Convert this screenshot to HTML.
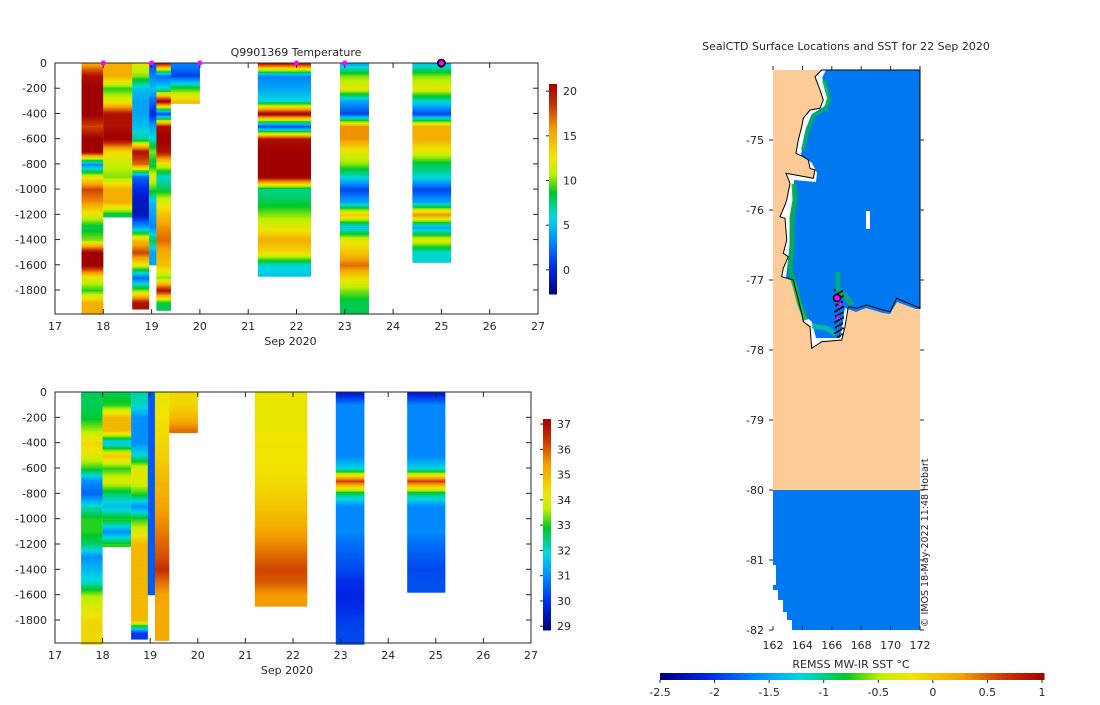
<!DOCTYPE html>
<html><head><meta charset="utf-8"><style>
body{margin:0;background:#fff;width:1100px;height:700px;overflow:hidden}
svg{font-family:"DejaVu Sans","Liberation Sans",sans-serif;font-size:11px;fill:#262626}
</style></head><body>
<svg id="s" width="1100" height="700" xmlns="http://www.w3.org/2000/svg"></svg>
<script>
// ---- data ----
const colDays = [[17.55,18.0],[18.0,18.6],[18.6,18.95],[18.95,19.1],[19.1,19.4],[19.4,20.0],[21.2,22.3],[22.9,23.5],[24.4,25.2]];
const tempMaxDepth = [1990,1220,1950,1600,1960,320,1690,1990,1580];
const tempA = [15,20,21,21,21,18,21,21,3,12,18,16,12,8,10,21,21,12,9,15];
const tempB = [15,15,9,12,20,20,21,13,11,10,15,15,8];
const tempC = [12,10,5,4,4,5,7,20,17,2,0,-1,-1,4,14,18,12,2,10,20];
const tempD = [1,3,5,2,0,4,6,10,8,12,9,5,4,3,8,4,4];
const tempE = [20,2,6,21,1,20,21,20,12,6,8,12,14,16,17,15,14,10,20,8];
const tempF = [3,1,9,14];
const tempG = [20,3,4,6,21,1,20,21,21,21,7,8,10,12,15,13,6,5];
const tempH = [4,10,12,4,1,16,16,12,10,6,1,4,14,5,12,14,17,13,10,8];
const tempI = [5,10,12,6,1,15,15,12,8,6,1,4,16,4,12,6,6];
const salMaxDepth = [1990,1220,1950,1600,1960,320,1690,1990,1580];
const salA = [32.6,32.6,32.8,33.5,34.5,34,33,31,30.5,32,33,33,32.5,31,31.5,32,33.5,34,34.5,34.5];
const salB = [32.6,33,35,35,31.5,34.8,33,34,32.5,31.5,33,31,33];
const salC = [32.2,32,31,31,31,32,34,34,33,31,33,34,35,35,35,35,35,35,35,30];
const salD = [30.4,30.4,30.4,30.4,30.4,30.4,30.4,30.4,30.4,30.4,30.4,30.4,30.4,30.4,30.4,30.4,30.4];
const salE = [34.2,34.2,34.3,34.4,34.5,34.6,34.8,35,35.1,35.3,35.5,35.7,35.9,36.1,36.4,35.8,35.3,35.2,35.2,35.2];
const salF = [34.5,34.5,35.0,35.8];
const salG = [34.2,34.2,34.2,34.2,34.3,34.3,34.3,34.4,34.6,34.8,35.0,35.3,35.6,35.9,36.2,36.0,35.4,35.4];
const salH = [29.5,30.9,30.9,30.9,30.9,30.9,31.8,36.3,32.5,30.9,30.9,30.9,30.6,30.4,30.2,29.9,29.8,29.9,30.1,30.2];
const salI = [29.5,30.9,30.9,30.9,30.9,30.9,31.8,36.3,32.5,30.9,30.9,30.9,30.6,30.4,30.2,30.3];
const xTicks = [17,18,19,20,21,22,23,24,25,26,27];
const yTicks = [0,-200,-400,-600,-800,-1000,-1200,-1400,-1600,-1800];
const tempCbTicks = [0,5,10,15,20];
const salCbTicks = [29,30,31,32,33,34,35,36,37];
const markerDays = [18,19,20,22,23];
const bigMarkerDay = 25;
const lonTicks = [162,164,166,168,170,172];
const latTicks = [-75,-76,-77,-78,-79,-80,-81,-82];
const sstTicks = [-2.5,-2,-1.5,-1,-0.5,0,0.5,1];
const tempCols=[tempA,tempB,tempC,tempD,tempE,tempF,tempG,tempH,tempI];
const salCols=[salA,salB,salC,salD,salE,salF,salG,salH,salI];

const S=document.getElementById('s');const NS='http://www.w3.org/2000/svg';
function el(t,a,p){const e=document.createElementNS(NS,t);for(const k in a)e.setAttribute(k,a[k]);(p||S).appendChild(e);return e;}
function txt(x,y,s,a,p){const e=el('text',Object.assign({x:x,y:y},a||{}),p);e.textContent=s;return e;}
const stops=[[0,[0,0,128]],[.12,[0,40,230]],[.25,[0,140,255]],[.36,[0,215,225]],[.48,[0,200,40]],[.57,[190,240,0]],[.65,[240,228,0]],[.78,[245,160,0]],[.9,[200,50,0]],[1,[160,0,0]]];
function cmap(t){t=Math.max(0,Math.min(1,t));for(let i=1;i<stops.length;i++){if(t<=stops[i][0]){const a=stops[i-1],b=stops[i],f=(t-a[0])/(b[0]-a[0]);const c=a[1].map((v,j)=>Math.round(v+(b[1][j]-v)*f));return 'rgb('+c.join(',')+')';}}return 'rgb(160,0,0)';}

function panel(o){
  const g=el('g',{});
  const X=d=>o.x0+(d-17)/10*(o.x1-o.x0);
  const Y=z=>o.y0+(-z)/1800*(o.y1800-o.y0);
  const V=v=>(v-o.vmin)/(o.vmax-o.vmin);
  o.cols.forEach((arr,ci)=>{
    const cg=el('g',{},g);
    const md=o.maxd[ci];
    for(let z=0;z<md;z+=10){
      const f=z/100,i=Math.floor(f),fr=f-i;const a=arr[Math.min(i,arr.length-1)],b=arr[Math.min(i+1,arr.length-1)];
      const v=a+(b-a)*fr;
      el('rect',{x:X(colDays[ci][0]),y:Y(-z),width:X(colDays[ci][1])-X(colDays[ci][0]),height:Y(-z-10)-Y(-z)+0.6,fill:cmap(V(v))},cg);
    }
  });
  el('rect',{x:o.x0,y:o.y0,width:o.x1-o.x0,height:o.yb-o.y0,fill:'none',stroke:'#262626','stroke-width':1},g);
  xTicks.forEach(t=>{const x=X(t);el('line',{x1:x,x2:x,y1:o.yb,y2:o.yb-5,stroke:'#262626'},g);el('line',{x1:x,x2:x,y1:o.y0,y2:o.y0+5,stroke:'#262626'},g);txt(x,o.yb+16,t,{'text-anchor':'middle'},g);});
  yTicks.forEach(t=>{const y=Y(t);el('line',{x1:o.x0,x2:o.x0+5,y1:y,y2:y,stroke:'#262626'},g);el('line',{x1:o.x1,x2:o.x1-5,y1:y,y2:y,stroke:'#262626'},g);txt(o.x0-8,y+4,t,{'text-anchor':'end'},g);});
  txt((o.x0+o.x1)/2-6,o.yb+31,'Sep 2020',{'text-anchor':'middle',},g);
  const cb=el('g',{},g);
  const CY=v=>o.cbB-(v-o.vmin)/(o.vmax-o.vmin)*(o.cbB-o.cbT);
  for(let i=0;i<100;i++){const v=o.vmin+(o.vmax-o.vmin)*i/100;el('rect',{x:o.cbx,y:CY(v+(o.vmax-o.vmin)/100),width:8,height:(o.cbB-o.cbT)/100+0.5,fill:cmap(i/100)},cb);}
  o.cbt.forEach(t=>{const y=CY(t);el('line',{x1:o.cbx-3,x2:o.cbx,y1:y,y2:y,stroke:'#262626'},cb);txt(o.cbx+14,y+4,t,{},cb);});
  return {g:g,X:X,Y:Y};
}
const topPanel=panel({name:'temperature-panel',x0:55,x1:538,y0:63,y1800:290,yb:314,vmin:-2.7,vmax:20.8,cols:tempCols,maxd:tempMaxDepth,cbx:549,cbT:84,cbB:294,cbt:tempCbTicks});
txt(296,56,'Q9901369  Temperature',{'text-anchor':'middle',});
markerDays.forEach(d=>{const m=el('circle',{cx:topPanel.X(d),cy:63,r:2.5,fill:'#ff00ff'});

});
el('circle',{cx:topPanel.X(bigMarkerDay),cy:63,r:3.5,fill:'#ff00ff',stroke:'#000','stroke-width':1.8,});
panel({name:'salinity-panel',x0:55,x1:531,y0:392,y1800:620,yb:643,vmin:28.85,vmax:37.2,cols:salCols,maxd:salMaxDepth,cbx:543,cbT:419,cbB:630,cbt:salCbTicks});

// ---- map ----
const mg=el('g',{});
const MX=l=>773+(l-162)/10*147, MY=la=>70+(-74-la)*70;
txt(846,50,'SealCTD Surface Locations and SST for 22 Sep 2020',{'text-anchor':'middle',},mg);
el('rect',{x:773,y:70,width:147,height:560,fill:'#fdcb97',},mg);
const coast='821.7,70 815,76.7 820,90 823.3,100 820,108.3 810,110 803.3,118.3 801.7,126.7 798.3,140 796,153.3 803.3,156.7 808.3,160 810,168.3 815,170 813.3,178.3 786,173.3 790,183.3 786.7,200 785,205 780,216.7 785,218.3 786.7,240 783.3,253.3 788.3,256.7 783.3,268.3 781.7,276.7 793.3,280 796.7,293.3 801.7,313.3 803.3,321.7 810,326.7 811.7,348.3 821.7,341.7 841.7,340 845,326.7 848.3,306.7 856.7,308.3 866.7,305 883.3,310 890,311.7 896.7,298.3 916.7,306.7 920,308.3 920,70';
el('polygon',{points:coast,fill:'#fff',stroke:'none'},mg);
el('polygon',{points:'826,70 822,78 828,90 828,104 812,114 806,128 801,155 812,163 817,173 816,182 794,180 793,200 790,216 790,240 788,260 786,278 796,282 800,300 805,316 812,322 816,338 840,338 843,322 845,308 856,312 866,308 883,313 890,314 897,302 916,309 920,309 920,70',fill:'#0078f0',},mg);
el('polyline',{points:'824,80 829,98 826,108 813,116 807,132 803,150',fill:'none',stroke:'#00b060','stroke-width':4,opacity:0.9},mg);
el('polyline',{points:'794,184 795,200 792,218 792,245 790,270 795,286 800,305 806,320',fill:'none',stroke:'#00b050','stroke-width':5,opacity:0.9},mg);
el('polyline',{points:'838,272 838,290 846,296 852,305',fill:'none',stroke:'#00b070','stroke-width':5,opacity:0.9},mg);
el('polyline',{points:'812,326 826,328 836,334',fill:'none',stroke:'#00c0a0','stroke-width':5,opacity:0.9},mg);
el('polygon',{points:coast,fill:'none',stroke:'#000','stroke-width':1},mg);
el('rect',{x:866,y:211,width:4,height:18,fill:'#fff'},mg);
el('rect',{x:773,y:490,width:147,height:140,fill:'#0078f0',},mg);
[[773,565,3,20],[773,590,5,40],[778,600,5,30],[783,612,4,18],[787,620,5,10]].forEach(r=>el('rect',{x:r[0],y:r[1],width:r[2],height:r[3],fill:'#fff'},mg));
const dots=el('g',{},mg);
for(let i=0;i<40;i++){el('circle',{cx:838+((i*7)%9)-3,cy:290+i*1.2,r:1.1,fill:'#000'},dots);}
el('circle',{cx:837,cy:298,r:3.5,fill:'#ff00ff',stroke:'#000','stroke-width':1.5},mg);
el('circle',{cx:840,cy:304,r:1.8,fill:'#ff00ff'},mg);
el('circle',{cx:838,cy:317,r:1.8,fill:'#ff00ff'},mg);
lonTicks.forEach(l=>{const x=MX(l);el('line',{x1:x,x2:x,y1:66,y2:70,stroke:'#262626'},mg);el('line',{x1:x,x2:x,y1:630,y2:626,stroke:'#262626'},mg);txt(x,649,l,{'text-anchor':'middle'},mg);});
latTicks.forEach(la=>{const y=MY(la);el('line',{x1:769,x2:773,y1:y,y2:y,stroke:'#262626'},mg);el('line',{x1:920,x2:924,y1:y,y2:y,stroke:'#262626'},mg);txt(764,y+4,la,{'text-anchor':'end'},mg);});
txt(0,0,'© IMOS 18-May-2022 11:48 Hobart',{transform:'translate(928,627) rotate(-90)','font-size':'9.5',},mg);
const sg=el('g',{});
const SX=v=>660+(v+2.5)/3.5*382;
for(let i=0;i<120;i++){el('rect',{x:660+i*384/120,y:673,width:384/120+0.5,height:7,fill:cmap(i/120)},sg);}
sstTicks.forEach(t=>{const x=SX(t);el('line',{x1:x,x2:x,y1:680,y2:683,stroke:'#262626'},sg);txt(x,696,t,{'text-anchor':'middle'},sg);});
txt(851,668,'REMSS MW-IR SST °C',{'text-anchor':'middle',},sg);
</script>
</body></html>
